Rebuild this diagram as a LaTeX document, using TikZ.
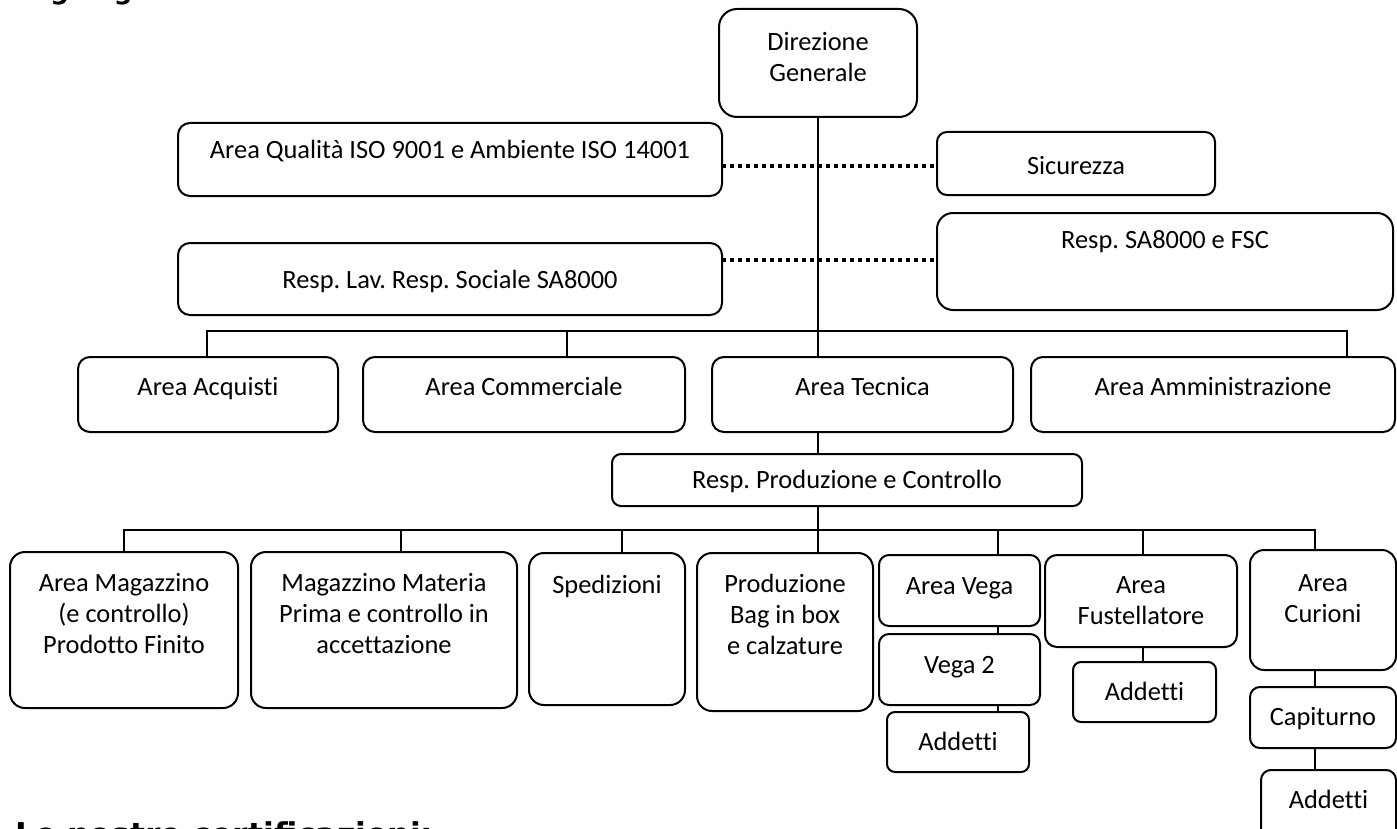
\documentclass[tikz,border=0pt]{standalone}
\usepackage{fontspec}
\setmainfont{Carlito}[Ligatures=NoCommon]
\newfontfamily\headfont{DejaVu Sans}
\frenchspacing
\tikzset{
  box/.style={draw, line width=1pt, inner sep=0pt, outer sep=0pt},
  txt/.style={inner sep=0pt, align=center, font=\fontsize{13.2}{15.5}\selectfont},
  one/.style={txt, text height=0.66em, text depth=0.2em, yshift=-2pt},
  conn/.style={draw, line width=0.9pt},
  dots/.style={draw, line width=2pt, dash pattern=on 2pt off 2pt},
  headA/.style={inner sep=0pt, font=\headfont\bfseries\fontsize{13}{15}\selectfont},
  headB/.style={inner sep=0pt, font=\headfont\bfseries\fontsize{15.7}{18}\selectfont}
}
% name, x1, y1, x2, y2, radius(pt)
\newcommand\orgbox[6]{%
  \node[box, rounded corners=#6pt, minimum width={(#4-#2)*0.5pt}, minimum height={(#5-#3)*0.5pt}] (#1) at ({(#2+#4)/2},{(#3+#5)/2}) {};}
\begin{document}
\begin{tikzpicture}[x=0.5pt,y=-0.5pt]
\useasboundingbox (0,0) rectangle (1397,829);
\fill[white] (0,0) rectangle (1397,829);
\clip (0,0) rectangle (1397,829);

% titles (cut by the page edges, as in the reference)
\node[headA, anchor=base west] (ttl) at (15,0) {Organigramma};
\node[headB, anchor=base west] (cert) at (15,845) {Le nostre certificazioni:};

% boxes
\orgbox{dir}{719}{9}{917}{117}{9}
\orgbox{qual}{178}{123}{722}{196}{6}
\orgbox{sic}{937}{132}{1215}{195}{5}
\orgbox{lav}{178}{243}{722}{315}{6}
\orgbox{sa}{937}{213}{1393}{310}{8}
\orgbox{acq}{78}{357}{338}{432}{6}
\orgbox{com}{363}{357}{685}{432}{6}
\orgbox{tec}{712}{357}{1013}{432}{6}
\orgbox{amm}{1031}{357}{1395}{432}{6}
\orgbox{prod}{612}{454}{1082}{506}{4.5}
\orgbox{mag}{10}{552}{238}{708}{7.5}
\orgbox{mat}{251}{552}{517}{708}{7.5}
\orgbox{spe}{529}{553}{685}{705}{7.5}
\orgbox{pbb}{697}{553}{873}{711}{7.5}
\orgbox{vega}{879}{555}{1040}{626}{5}
\orgbox{vegb}{879}{634}{1040}{705}{5}
\orgbox{addv}{887}{712}{1029}{772}{4}
\orgbox{fus}{1045}{555}{1237}{647}{6}
\orgbox{addf}{1073}{662}{1216}{722}{4}
\orgbox{cur}{1250}{550}{1396}{670}{7}
\orgbox{cap}{1250}{687}{1396}{748}{5}
\orgbox{addc}{1261}{770}{1396}{850}{5}

% texts
\node[txt] (dirt) at (dir.center |- 0,57) {Direzione\\Generale};
\node[one] (qualt) at (qual.center |- 0,150) {Area Qualità ISO 9001 e Ambiente ISO 14001};
\node[one] (sict) at (sic.center |- 0,166) {Sicurezza};
\node[one] (lavt) at (lav.center |- 0,280) {Resp. Lav. Resp. Sociale SA8000};
\node[one] (sat) at (sa.center |- 0,240) {Resp. SA8000 e FSC};
\node[one] (acqt) at (acq.center |- 0,387) {Area Acquisti};
\node[one] (comt) at (com.center |- 0,387) {Area Commerciale};
\node[one] (tect) at (tec.center |- 0,387) {Area Tecnica};
\node[one] (ammt) at (amm.center |- 0,387) {Area Amministrazione};
\node[one] (prodt) at (prod.center |- 0,480) {Resp. Produzione e Controllo};
\node[txt] (magt) at (mag.center |- 0,614) {Area Magazzino\\(e controllo)\\Prodotto Finito};
\node[txt] (matt) at (mat.center |- 0,614) {Magazzino Materia\\Prima e controllo in\\accettazione};
\node[one] (spet) at (spe.center |- 0,585) {Spedizioni};
\node[txt] (pbbt) at (pbb.center |- 0,614) {Produzione\\Bag in box\\e calzature};
\node[one] (vegat) at (vega.center |- 0,586) {Area Vega};
\node[one] (vegbt) at (vegb.center |- 0,665) {Vega 2};
\node[one] (addvt) at (addv.center |- 0,742) {Addetti};
\node[txt] (fust) at (fus.center |- 0,601) {Area\\Fustellatore};
\node[one] (addft) at (addf.center |- 0,692) {Addetti};
\node[txt] (curt) at (cur.center |- 0,599) {Area\\Curioni};
\node[one] (capt) at (cap.center |- 0,717) {Capiturno};
\node[one] (addct) at (addc.center |- 0,800) {Addetti};

% junction coordinates
\coordinate (d1) at (0,166);
\coordinate (d2) at (0,260);
\coordinate (j1) at (207,331);
\coordinate (j2) at (567,331);
\coordinate (j4) at (1347,331);
\coordinate (k1) at (124,530);
\coordinate (k2) at (401,530);
\coordinate (k3) at (622,530);
\coordinate (k4) at (818,530);
\coordinate (k5) at (998,530);
\coordinate (k6) at (1143,530);
\coordinate (k7) at (1315,530);

% dotted staff links
\draw[dots] (qual.east |- d1) -- (sic.west |- d1);
\draw[dots] (lav.east |- d2) -- (sa.west |- d2);

% connectors
\draw[conn] (dir.south) -- (dir.south |- tec.north);
\draw[conn] (acq.north -| j1) -- (j1) -- (j4) -- (amm.north -| j4);
\draw[conn] (j2) -- (com.north -| j2);
\draw[conn] (tec.south -| dir.south) -- (prod.north -| dir.south);
\draw[conn] (prod.south -| k4) -- (pbb.north -| k4);
\draw[conn] (mag.north -| k1) -- (k1) -- (k7) -- (cur.north -| k7);
\draw[conn] (k2) -- (mat.north -| k2);
\draw[conn] (k3) -- (spe.north -| k3);
\draw[conn] (k5) -- (vega.north -| k5);
\draw[conn] (k6) -- (fus.north -| k6);
\draw[conn] (vega.south -| k5) -- (vegb.north -| k5);
\draw[conn] (vegb.south -| k5) -- (addv.north -| k5);
\draw[conn] (fus.south -| k6) -- (addf.north -| k6);
\draw[conn] (cur.south -| k7) -- (cap.north -| k7);
\draw[conn] (cap.south -| k7) -- (addc.north -| k7);
\end{tikzpicture}
\end{document}
